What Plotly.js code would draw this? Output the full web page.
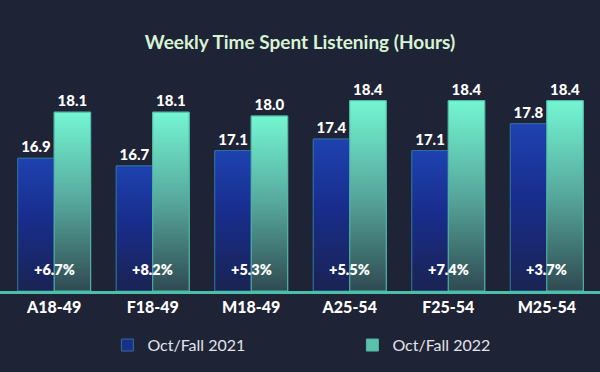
<!DOCTYPE html>
<html><head><meta charset="utf-8">
<script src="https://cdn.plot.ly/plotly-3.0.1.min.js"></script>
<style>html,body{margin:0;padding:0;background:#1e2336;}#chart{width:600px;height:372px;}</style>
</head><body><div id="chart"></div>
<script>
const categories = ["A18-49","F18-49","M18-49","A25-54","F25-54","M25-54"];
const fall2021 = [16.9, 16.7, 17.1, 17.4, 17.1, 17.8];
const fall2022 = [18.1, 18.1, 18.0, 18.4, 18.4, 18.4];
const pctChange = ["+6.7%","+8.2%","+5.3%","+5.5%","+7.4%","+3.7%"];
const seriesNames = ["Oct/Fall 2021","Oct/Fall 2022"];

const yMin = 13.44, yMax = 19.2;
const barW = 0.37;
const xs = categories.map((c,i)=>i);

const blueScale = [[0,'#1a2352'],[0.55,'#182d8c'],[1,'#1e42b0']];
const tealScale = [[0,'#2f4a52'],[0.5,'#56a79c'],[1,'#74f6d2']];
const font = 'Lato, "Open Sans", sans-serif';

const traces = [
  {type:'bar', name:seriesNames[0], x:xs, y:fall2021.map(v=>v-yMin), base:yMin, offset:-barW, width:barW,
   marker:{color:'#1a2f8a', line:{color:'#2d6f9a', width:1}},
   text:fall2021.map(v=>v.toFixed(1)), textposition:'outside', cliponaxis:false,
   textfont:{color:'#ffffff', size:15, family:font, weight:900}, hoverinfo:'skip'},
  {type:'bar', name:seriesNames[1], x:xs, y:fall2022.map(v=>v-yMin), base:yMin, offset:0, width:barW,
   marker:{color:'#5cc0aa', line:{color:'#4fb8a8', width:1}},
   text:fall2022.map(v=>v.toFixed(1)), textposition:'outside', cliponaxis:false,
   textfont:{color:'#ffffff', size:15, family:font, weight:900}, hoverinfo:'skip'}
];

function gradBar(x0, x1, v, scale, lineColor){
  return {type:'scatter', mode:'lines', x:[x0,x1,x1,x0,x0], y:[yMin,yMin,v,v,yMin],
    fill:'toself', fillgradient:{type:'vertical', colorscale:scale, start:yMin, stop:v},
    line:{color:lineColor, width:1}, showlegend:false, hoverinfo:'skip'};
}
xs.forEach((x,i)=>{
  traces.push(gradBar(x-barW, x, fall2021[i], blueScale, '#2d6f9a'));
  traces.push(gradBar(x, x+barW, fall2022[i], tealScale, '#4fb8a8'));
});

const annotations = xs.map((x,i)=>({x:x, y:14.0, xref:'x', yref:'y', text:pctChange[i], showarrow:false,
  font:{color:'#ffffff', size:14.5, family:font, weight:800}}));

const layout = {
  width:600, height:372,
  paper_bgcolor:'#1e2336', plot_bgcolor:'#1e2336',
  margin:{l:0, r:0, t:70, b:81},
  title:{text:'Weekly Time Spent Listening (Hours)', x:0.5, xanchor:'center', y:0.887, yanchor:'middle',
    font:{color:'#d8f3d4', size:19, family:font, weight:700}},
  barmode:'overlay',
  showlegend:true,
  legend:{orientation:'h', x:0.179, xanchor:'left', y:-0.245, yanchor:'middle', entrywidth:200, entrywidthmode:'pixels',
    font:{color:'#e2e4ea', size:16, family:font}, bgcolor:'rgba(0,0,0,0)'},
  xaxis:{range:[-0.55, 5.54], tickvals:xs, ticktext:categories, showgrid:false, zeroline:false,
    showline:true, linecolor:'#4cbfa9', linewidth:2.5, ticks:'', fixedrange:true,
    tickfont:{color:'#ffffff', size:16, family:font, weight:900}},
  yaxis:{range:[yMin, yMax], visible:false, showgrid:false, zeroline:false, fixedrange:true},
  annotations:annotations
};
Plotly.newPlot('chart', traces, layout, {displayModeBar:false, staticPlot:true});
</script></body></html>
